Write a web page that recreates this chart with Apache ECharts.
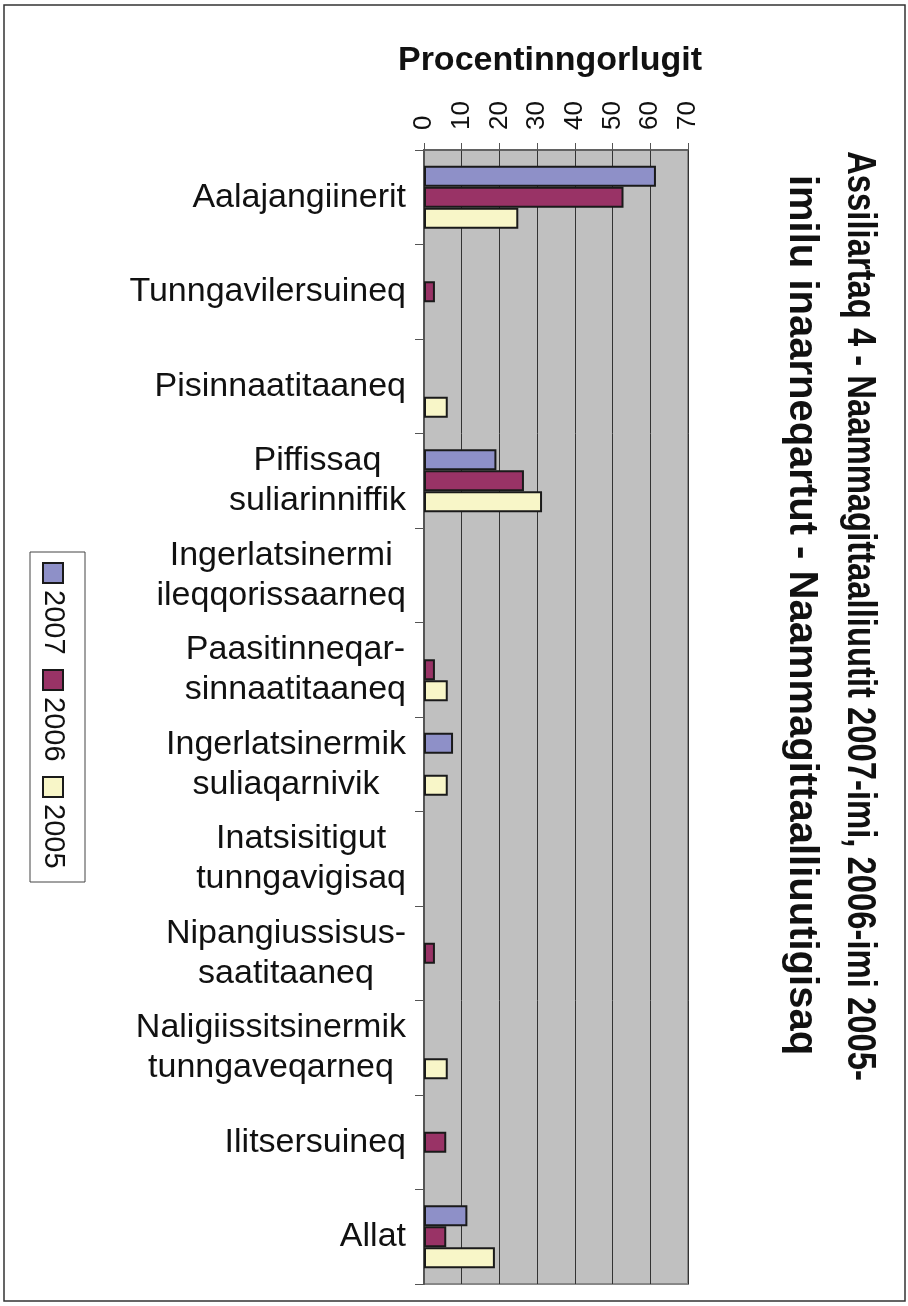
<!DOCTYPE html>
<html>
<head>
<meta charset="utf-8">
<title>Assiliartaq 4</title>
<script src="https://cdn.jsdelivr.net/npm/echarts@6/dist/echarts.min.js"></script>
<style>
  html, body { margin: 0; padding: 0; background: #fff; }
  #chart { width: 908px; height: 1306px; }
</style>
</head>
<body>
<div id="chart"></div>
<script>
  // kategoriit (oqimaassusaa), ukiut aamma procentit
  const categories = [
    'Aalajangiinerit',
    'Tunngavilersuineq',
    'Pisinnaatitaaneq',
    'Piffissaq\nsuliarinniffik',
    'Ingerlatsinermi\nileqqorissaarneq',
    'Paasitinneqar-\nsinnaatitaaneq',
    'Ingerlatsinermik\nsuliaqarnivik',
    'Inatsisitigut\ntunngavigisaq',
    'Nipangiussisus-\nsaatitaaneq',
    'Naligiissitsinermik\ntunngaveqarneq',
    'Ilitsersuineq',
    'Allat'
  ];
  const years = ['2007', '2006', '2005'];
  const values2007 = [61.5, null, null, 19.2, null, null, 7.7, null, null, null, null, 11.5];
  const values2006 = [52.9, 2.9, null, 26.5, null, 2.9, null, null, 2.9, null, 5.9, 5.9];
  const values2005 = [25.0, null, 6.3, 31.3, null, 6.3, 6.3, null, null, 6.3, null, 18.8];
  const valueTicks = [0, 10, 20, 30, 40, 50, 60, 70];
  const axisTitle = 'Procentinngorlugit';
  const titleLines = [
    'Assiliartaq 4 - Naammagittaalliuutit 2007-imi, 2006-imi 2005-',
    'imilu inaarneqartut - Naammagittaalliuutigisaq'
  ];

  const colors = ['#8e90c8', '#993366', '#f8f6c8'];
  const font = '"Liberation Sans", Arial, sans-serif';

  const myChart = echarts.init(document.getElementById('chart'));

  // legendi (saatsillugu) - graphic-imik
  const legendItems = [];
  years.forEach(function (y, i) {
    const lx = 11 + i * 107;
    legendItems.push({
      type: 'rect',
      shape: { x: lx, y: 22, width: 20, height: 20 },
      style: { fill: colors[i], stroke: '#1a1a1a', lineWidth: 2 }
    });
    legendItems.push({
      type: 'text',
      style: {
        text: y, x: lx + 27, y: 32, fill: '#111',
        fontSize: 29, fontFamily: font,
        align: 'left', verticalAlign: 'middle'
      }
    });
  });

  const seriesData = [values2007, values2006, values2005];

  myChart.setOption({
    animation: false,
    textStyle: { fontFamily: font, color: '#111' },
    grid: {
      left: 424, right: 220, top: 150, bottom: 22,
      show: true,
      backgroundColor: '#c0c0c0',
      borderColor: '#888',
      borderWidth: 2
    },
    xAxis: {
      type: 'value',
      position: 'top',
      min: valueTicks[0],
      max: valueTicks[valueTicks.length - 1],
      interval: 10,
      name: axisTitle,
      nameLocation: 'middle',
      nameGap: 72,
      nameTextStyle: {
        fontSize: 34, fontWeight: 'bold', color: '#111', fontFamily: font,
        padding: [0, 12, 0, 0]
      },
      axisLine: { show: true, lineStyle: { color: '#555', width: 1.5 } },
      axisTick: { show: true, length: 7, lineStyle: { color: '#555' } },
      axisLabel: { rotate: -90, margin: 20, fontSize: 26, color: '#111', fontFamily: font },
      splitLine: { show: true, lineStyle: { color: '#333', width: 1 } }
    },
    yAxis: {
      type: 'category',
      inverse: true,
      data: categories,
      axisLine: { show: true, lineStyle: { color: '#555', width: 2 } },
      axisTick: { show: true, length: 9, lineStyle: { color: '#555' } },
      axisLabel: {
        margin: 18,
        // rivit qiterlersillugit, blokki talerperliinnut
        formatter: function (v) {
          return v.split('\n').map(function (s) { return '{c|' + s + '}'; }).join('\n');
        },
        rich: {
          c: { align: 'center', fontSize: 34, lineHeight: 40, color: '#111', fontFamily: font }
        }
      },
      splitLine: { show: false }
    },
    series: years.map(function (y, i) {
      return {
        name: y,
        type: 'bar',
        data: seriesData[i],
        barWidth: 21,
        barGap: '0%',
        itemStyle: { color: colors[i], borderColor: '#1a1a1a', borderWidth: 2 }
      };
    }),
    graphic: [
      {
        type: 'rect', z: -10, silent: true,
        shape: { x: 4, y: 5, width: 901, height: 1296 },
        style: { fill: 'none', stroke: '#333', lineWidth: 1.5 }
      },
      {
        type: 'text', x: 859, y: 616, rotation: -Math.PI / 2, scaleX: 0.82,
        style: {
          text: titleLines[0], fill: '#111', fontSize: 40, fontWeight: 'bold',
          fontFamily: font, align: 'center', verticalAlign: 'middle'
        }
      },
      {
        type: 'text', x: 801, y: 615, rotation: -Math.PI / 2, scaleX: 1.0,
        style: {
          text: titleLines[1], fill: '#111', fontSize: 40, fontWeight: 'bold',
          fontFamily: font, align: 'center', verticalAlign: 'middle'
        }
      },
      {
        type: 'group', x: 85, y: 552, rotation: -Math.PI / 2,
        children: [
          {
            type: 'rect',
            shape: { x: 0, y: 0, width: 330, height: 55 },
            style: { fill: '#fff', stroke: '#444', lineWidth: 1 }
          }
        ].concat(legendItems)
      }
    ]
  });
</script>
</body>
</html>
